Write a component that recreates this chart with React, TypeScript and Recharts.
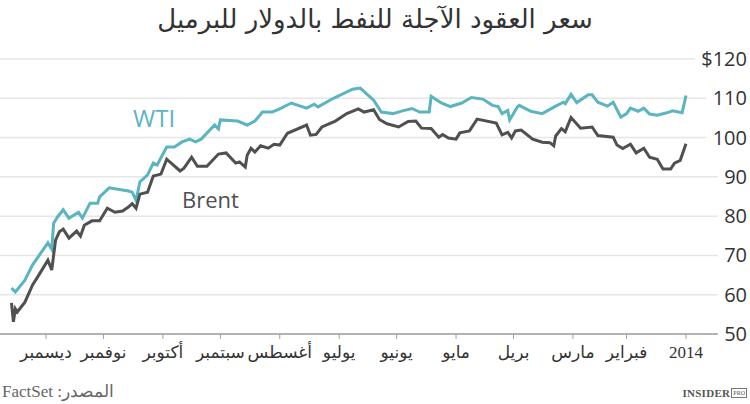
import React from 'react';
import { LineChart, Line, XAxis, YAxis, CartesianGrid } from 'recharts';

// Days are counted back from 1 Jan 2014 (0 = 1 Jan); the axis runs right-to-left.
const monthLabels = ['2014', 'فبراير', 'مارس', 'بريل', 'مايو', 'يونيو', 'يوليو', 'أغسطس', 'سبتمبر', 'أكتوبر', 'نوفمبر', 'ديسمبر'];
const monthStarts = [0, 31, 59, 90, 120, 151, 181, 212, 243, 273, 304, 334];
const yTicks = [50, 60, 70, 80, 90, 100, 110, 120];

const wtiDays = [352, 350, 345, 341, 333, 331, 330, 328, 325, 322, 317, 315, 311, 307, 306, 301, 291, 289, 287, 285, 281, 278, 276, 271, 267, 263, 259, 256, 253, 246, 244, 243, 234, 229, 225, 221, 216, 212, 206, 198, 194, 192, 184, 174, 170, 163, 159, 153, 148, 143, 139, 134, 133, 128, 123, 117, 112, 106, 101, 98, 96, 93, 92, 88, 87, 81, 75, 68, 64, 63, 60, 57, 51, 49, 46, 41, 38, 34, 31, 29, 25, 22, 19, 15, 10, 7, 2, 0];
const wtiValues = [61.7, 60.7, 63.7, 67.6, 73.2, 71.6, 78.2, 79.8, 81.6, 79.5, 81, 79.5, 83.3, 83.3, 84.9, 87.2, 86.4, 86.1, 84, 88.7, 90.5, 93.5, 93, 97.6, 97.6, 98.9, 99.6, 98.9, 99.6, 103.2, 102.2, 104.5, 104.2, 103.2, 104.2, 106.5, 106.5, 107.3, 108.8, 107.5, 108.5, 107.8, 110, 112.3, 112.6, 109.5, 106.5, 106.1, 106.8, 107.4, 106.5, 106.5, 110.5, 108.9, 107.9, 108.8, 110.2, 109.8, 108.2, 107.9, 106.1, 106.9, 104.5, 107.8, 108.2, 106.7, 106.1, 108, 109, 108.6, 111, 108.9, 110.9, 110.9, 109, 108, 109, 105.2, 106.1, 107.5, 106.7, 107.5, 106, 105.7, 106.3, 106.8, 106.3, 110.7];

const brentDays = [352, 351, 350, 349, 345, 341, 338, 333, 331, 329, 327, 325, 322, 318, 316, 314, 310, 306, 302, 298, 294, 291, 289, 287, 285, 281, 278, 274, 271, 264, 262, 258, 255, 250, 244, 240, 235, 233, 230, 229, 227, 225, 222, 218, 215, 212, 208, 198, 196, 193, 190, 183, 177, 171, 168, 163, 160, 156, 150, 145, 141, 138, 133, 129, 127, 124, 120, 118, 113, 109, 99, 96, 93, 91, 89, 86, 80, 75, 71, 69, 68, 65, 63, 60, 55, 49, 46, 38, 36, 33, 29, 26, 22, 19, 15, 12, 8, 6, 3, 0];
const brentValues = [57.9, 53.1, 56.4, 55.6, 58.1, 62.5, 64.8, 68.8, 66.3, 73.9, 76, 76.7, 74.4, 76.2, 74.9, 77.7, 78.8, 78.8, 82, 81, 81.3, 82.3, 83.2, 82, 85.6, 86.1, 90.2, 90.7, 94.5, 91.5, 92.2, 95, 92.7, 92.7, 95.8, 96.1, 93.5, 93.8, 92.5, 95.5, 97.3, 96.3, 97.9, 97.3, 98.3, 98.1, 101.1, 103.2, 100.6, 100.8, 102.7, 104.2, 106.1, 107.3, 106.5, 107.1, 104.6, 103.5, 102.7, 104.1, 104.2, 102.4, 102.3, 100.1, 100.8, 99.9, 99.6, 101.2, 101.7, 104.7, 103.7, 100.7, 101.3, 99.9, 101.7, 101.9, 99.6, 98.8, 98.7, 97.9, 100.4, 102.3, 101.5, 105.1, 102.4, 102.7, 100.5, 100.1, 98.1, 97.2, 98.3, 96.1, 97.3, 95, 94.5, 92, 92, 93.5, 94.2, 98.4];

const wtiData = wtiDays.map((day, i) => ({ day, value: wtiValues[i] }));
const brentData = brentDays.map((day, i) => ({ day, value: brentValues[i] }));

const WTI_COLOR = '#5ab5c1';
const BRENT_COLOR = '#505050';

function YTick(props: any) {
  const { x, y, payload } = props;
  const label = payload.value === 120 ? '$120' : String(payload.value);
  const w = label.length * 11.6 + 6;
  return (
    <g>
      <rect x={x - w} y={y - 13} width={w + 4} height={26} fill="#ffffff" />
      <text x={x} y={y} dy={7} textAnchor="end" fontFamily="'Open Sans', sans-serif" fontSize={20} fill="#333333">
        {label}
      </text>
    </g>
  );
}

function XTick(props: any) {
  const { x, y, payload } = props;
  const idx = monthStarts.indexOf(payload.value);
  return (
    <text x={x} y={y} dy={15} textAnchor="middle" fontFamily="'Liberation Serif', 'DejaVu Sans', serif" fontSize={17} fill="#333333">
      {monthLabels[idx]}
    </text>
  );
}

export default function App() {
  return (
    <div style={{ position: 'absolute', left: 0, top: 0, width: 750, height: 404, background: '#ffffff', overflow: 'hidden' }}>
      <div
        dir="rtl"
        style={{ position: 'absolute', left: 0, top: 3, width: 750, textAlign: 'center', fontFamily: "'DejaVu Sans', sans-serif", fontSize: 26, color: '#333333', lineHeight: '32px' }}
      >
        سعر العقود الآجلة للنفط بالدولار للبرميل
      </div>
      <div style={{ position: 'absolute', left: 0, top: 0 }}>
        <LineChart width={750} height={404} data={wtiData} margin={{ top: 59, right: 0, left: 0, bottom: 0 }}>
          <CartesianGrid vertical={false} stroke="#e6e6e6" strokeWidth={1.5} />
          <XAxis
            type="number"
            dataKey="day"
            domain={[-30.8, 358]}
            reversed
            allowDataOverflow
            ticks={monthStarts}
            tick={<XTick />}
            tickSize={5}
            tickMargin={4}
            tickLine={{ stroke: '#a0a0a0' }}
            axisLine={{ stroke: '#a0a0a0', strokeWidth: 1.5 }}
            height={70}
          />
          <YAxis
            orientation="right"
            type="number"
            domain={[50, 120]}
            ticks={yTicks}
            tick={<YTick />}
            axisLine={false}
            tickLine={false}
            tickSize={0}
            tickMargin={2}
            width={5}
          />
          <Line data={wtiData} dataKey="value" type="linear" stroke={WTI_COLOR} strokeWidth={3} dot={false} isAnimationActive={false} />
          <Line data={brentData} dataKey="value" type="linear" stroke={BRENT_COLOR} strokeWidth={3} dot={false} isAnimationActive={false} />
        </LineChart>
      </div>
      <div style={{ position: 'absolute', left: 133, top: 104, fontFamily: "'Open Sans', sans-serif", fontSize: 24, color: WTI_COLOR, lineHeight: '28px' }}>
        WTI
      </div>
      <div style={{ position: 'absolute', left: 182, top: 185, fontFamily: "'Open Sans', sans-serif", fontSize: 22, color: BRENT_COLOR, lineHeight: '28px' }}>
        Brent
      </div>
      <div
        dir="rtl"
        style={{ position: 'absolute', left: 2, top: 382, fontFamily: "'Liberation Serif', serif", fontSize: 17, color: '#666666', lineHeight: '20px' }}
      >
        المصدر: FactSet
      </div>
      <div style={{ position: 'absolute', right: 3, top: 387, display: 'flex', alignItems: 'center', fontFamily: "'Liberation Serif', serif", color: '#555555' }}>
        <span style={{ fontSize: 11, fontWeight: 'bold', letterSpacing: 0.3 }}>INSIDER</span>
        <span style={{ fontSize: 6, border: '1px solid #777', marginLeft: 1, padding: '0 1px', lineHeight: '8px' }}>PRO</span>
      </div>
    </div>
  );
}
